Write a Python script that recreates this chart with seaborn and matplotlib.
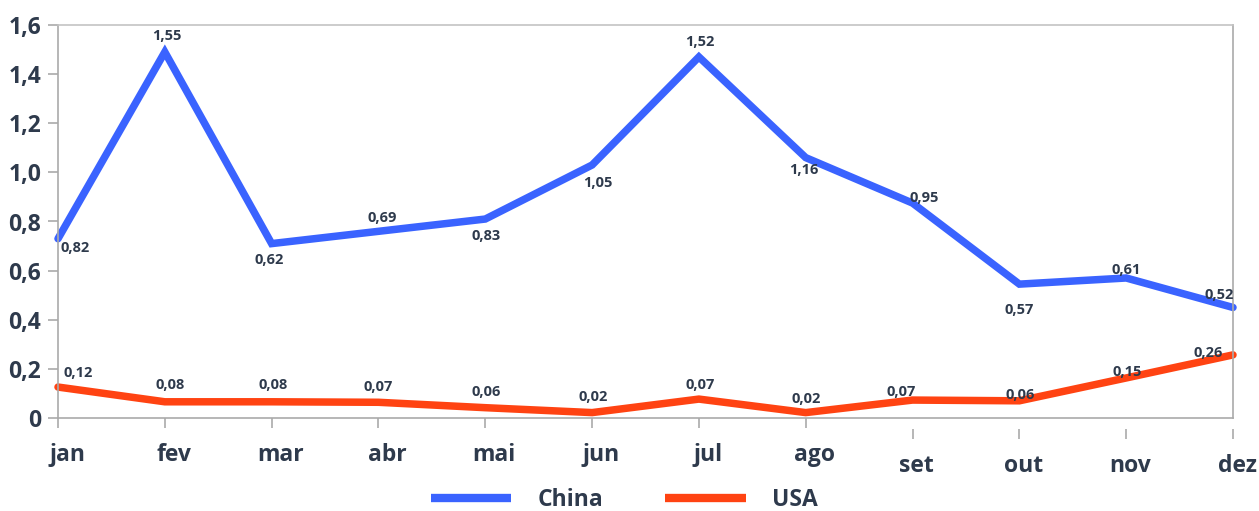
import numpy as np
import pandas as pd
import matplotlib
matplotlib.use("Agg")
import matplotlib.pyplot as plt
import matplotlib.transforms as mtransforms
import seaborn as sns

months = ["jan", "fev", "mar", "abr", "mai", "jun", "jul", "ago", "set", "out", "nov", "dez"]
china = [0.73, 1.49, 0.71, 0.76, 0.81, 1.03, 1.47, 1.06, 0.875, 0.545, 0.57, 0.45]
usa = [0.126, 0.066, 0.066, 0.064, 0.042, 0.022, 0.077, 0.022, 0.073, 0.07, 0.163, 0.257]
china_labels = ["0,82", "1,55", "0,62", "0,69", "0,83", "1,05", "1,52", "1,16", "0,95", "0,57", "0,61", "0,52"]
usa_labels = ["0,12", "0,08", "0,08", "0,07", "0,06", "0,02", "0,07", "0,02", "0,07", "0,06", "0,15", "0,26"]
yticks = [0, 0.2, 0.4, 0.6, 0.8, 1.0, 1.2, 1.4, 1.6]
ytick_labels = ["0", "0,2", "0,4", "0,6", "0,8", "1,0", "1,2", "1,4", "1,6"]

# label offsets in pixels (dx, dy), y up
china_off = [(17, -9), (2, 16), (-2, -16), (4, 13), (1, -17), (6, -18),
             (1, 15), (-2, -12), (12, 5), (0, -26), (0, 8), (-14, 12)]
usa_off = [(20, 14), (5, 17), (1, 17), (0, 15), (1, 16), (1, 16),
           (1, 14), (0, 14), (-11, 8), (1, 6), (1, 6), (-25, 2)]

TXT = "#2E3A4C"
BLUE = "#3A63FF"
RED = "#FF4312"
GRID = "#AAAAAA"

sns.set_theme(style="white")
plt.rcParams["font.family"] = ["Open Sans", "DejaVu Sans"]
plt.rcParams["font.weight"] = "bold"

df = pd.DataFrame({
    "mes": list(range(12)) * 2,
    "valor": china + usa,
    "pais": ["China"] * 12 + ["USA"] * 12,
})

fig = plt.figure(figsize=(12.59, 5.11), dpi=100)
ax = fig.add_axes([58 / 1259, 93 / 511, 1175 / 1259, 393 / 511])

sns.lineplot(data=df, x="mes", y="valor", hue="pais", palette=[BLUE, RED],
             linewidth=5.4, ax=ax, legend=False, sort=False)
for line in ax.lines:
    line.set_solid_capstyle("round")
    line.set_solid_joinstyle("miter")
    line.set_clip_on(False)

for vals, labs, offs in [(china, china_labels, china_off), (usa, usa_labels, usa_off)]:
    for i, (v, t, (dx, dy)) in enumerate(zip(vals, labs, offs)):
        ax.annotate(t, (i, v), xytext=(dx, dy), textcoords="offset pixels",
                    ha="center", va="center", fontsize=10.5, fontweight="bold",
                    color=TXT, annotation_clip=False)

ax.set_xlim(0, 11)
ax.set_ylim(0, 1.6)
ax.set_xticks(range(12))
ax.set_xticklabels(months)
ax.set_yticks(yticks)
ax.set_yticklabels(ytick_labels)
ax.set_xlabel("")
ax.set_ylabel("")
for s in ax.spines.values():
    s.set_color(GRID)
    s.set_linewidth(1.2)
ax.spines["top"].set_color("#C4C4C4")
ax.tick_params(axis="both", which="major", direction="out", length=7, width=1.2,
               color=GRID, labelcolor=TXT, labelsize=16.5)
ax.tick_params(axis="x", pad=11, bottom=True)
ax.tick_params(axis="y", pad=5, left=True)

# second group of month ticks sits a bit lower, labels shifted right
for i, tick in enumerate(ax.xaxis.get_major_ticks()):
    down = 11 if i >= 8 else 0
    dx = 4 if i >= 8 else 9
    tick.tick1line.set_transform(tick.tick1line.get_transform() +
                                 mtransforms.ScaledTranslation(0, -down / 100, fig.dpi_scale_trans))
    tick.label1.set_transform(tick.label1.get_transform() +
                              mtransforms.ScaledTranslation(dx / 100, -down / 100, fig.dpi_scale_trans))

handles = [plt.Line2D([], [], color=BLUE, lw=6, solid_capstyle="butt"),
           plt.Line2D([], [], color=RED, lw=6, solid_capstyle="butt")]
fig.legend(handles, ["China", "USA"], loc="center", bbox_to_anchor=(0.496, 1 - 500 / 511),
           ncol=2, frameon=False, fontsize=16.5, handlelength=3.5, handletextpad=1.15,
           columnspacing=2.7, labelcolor=TXT)

fig.savefig("out.png", dpi=100)
